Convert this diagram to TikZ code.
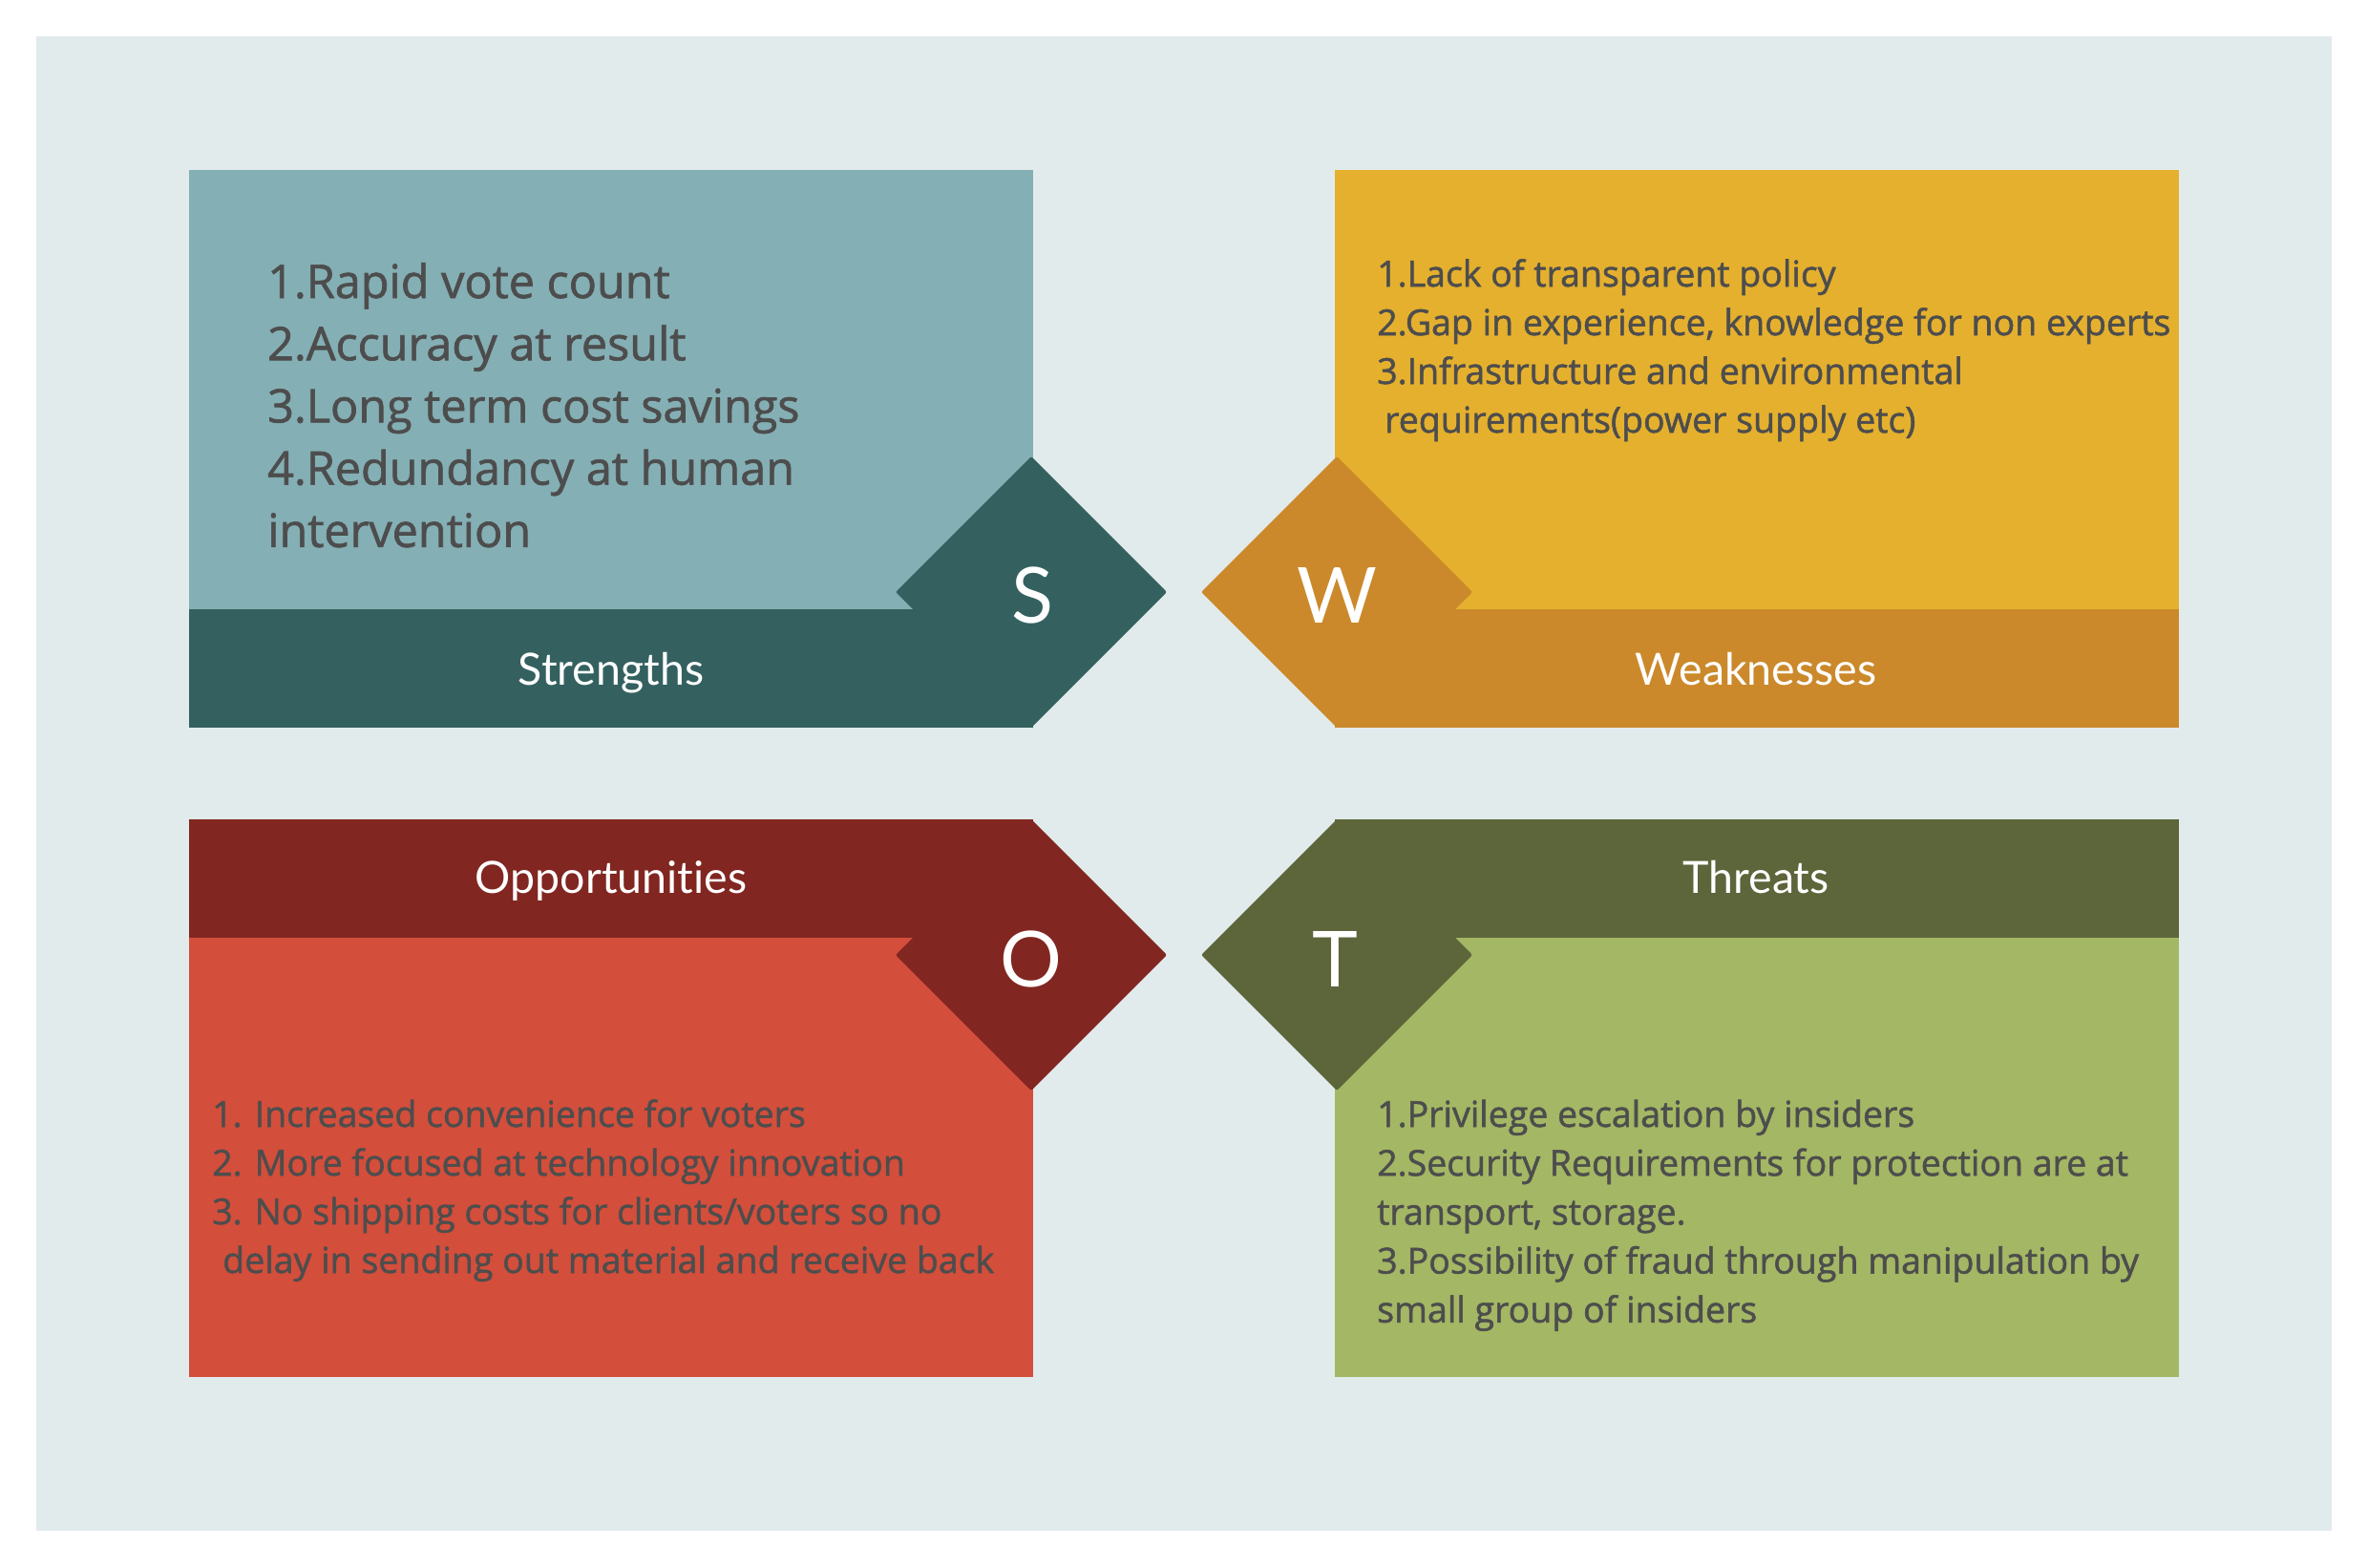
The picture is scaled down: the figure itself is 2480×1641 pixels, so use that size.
\documentclass[tikz,border=0pt]{standalone}
\usepackage{fontspec}
\setmainfont{Open Sans}
\newfontfamily\labfont[Ligatures=NoCommon]{Lato}
\newfontfamily\bodyfont[FakeBold=1.4]{Open Sans}
\definecolor{bgc}{HTML}{E2EBEC}
\definecolor{sLight}{HTML}{84AFB4}
\definecolor{sDark}{HTML}{346160}
\definecolor{wLight}{HTML}{E4B02E}
\definecolor{wDark}{HTML}{CB892B}
\definecolor{oLight}{HTML}{D34E3B}
\definecolor{oDark}{HTML}{812621}
\definecolor{tLight}{HTML}{A3B764}
\definecolor{tDark}{HTML}{5D653B}
\definecolor{txt}{HTML}{4D4D4D}
\begin{document}
\begin{tikzpicture}[x=1pt,y=-1pt,
  letterstyle/.style={text=white,font=\labfont\fontsize{81}{90}\selectfont,anchor=base,inner sep=0pt},
  labelstyle/.style={text=white,font=\labfont\fontsize{46.5}{55}\selectfont,anchor=base,inner sep=0pt},
  liststyle/.style={text=txt,anchor=base west,inner sep=0pt},
  diam/.style={rounded corners=2pt}]
\useasboundingbox (0,0) rectangle (2480,1641);
\fill[white] (0,0) rectangle (2480,1641);
\fill[bgc] (38,38) rectangle (2442,1603);
% Strengths
\fill[sLight] (198,178) rectangle (1082,638);
\fill[sDark] (198,638) rectangle (1082,762);
\fill[sDark,diam] (1080,478) -- (1222,620) -- (1080,762) -- (938,620) -- cycle;
% Weaknesses
\fill[wLight] (1398,178) rectangle (2282,638);
\fill[wDark] (1398,638) rectangle (2282,762);
\fill[wDark,diam] (1400,478) -- (1542,620) -- (1400,762) -- (1258,620) -- cycle;
% Opportunities
\fill[oDark] (198,858) rectangle (1082,982);
\fill[oLight] (198,982) rectangle (1082,1442);
\fill[oDark,diam] (1080,858) -- (1222,1000) -- (1080,1142) -- (938,1000) -- cycle;
% Threats
\fill[tDark] (1398,858) rectangle (2282,982);
\fill[tLight] (1398,982) rectangle (2282,1442);
\fill[tDark,diam] (1400,858) -- (1542,1000) -- (1400,1142) -- (1258,1000) -- cycle;
% letters
\node[letterstyle] (ls) at (1081,652) {S};
\node[letterstyle] (lw) at (1400,652) {W};
\node[letterstyle] (lo) at (1080,1033) {O};
\node[letterstyle] (lt) at (1398,1033) {T};
% labels
\node[labelstyle] (labs) at (640,717) {Strengths};
\node[labelstyle] (labw) at (1839,717) {Weaknesses};
\node[labelstyle] (labo) at (640,935) {Opportunities};
\node[labelstyle] (labt) at (1839,935) {Threats};
% lists
\node[liststyle] (slist) at (280,312) {\vtop{\bodyfont\fontsize{48.5}{65.2}\selectfont
  \hbox{1.Rapid vote count}
  \hbox{2.Accuracy at result}
  \hbox{3.Long term cost savings}
  \hbox{4.Redundancy at human}
  \hbox{intervention}}};
\node[liststyle] (wlist) at (1442,300) {\vtop{\bodyfont\fontsize{37.5}{51}\selectfont
  \hbox{1.Lack of transparent policy}
  \hbox{2.Gap in experience, knowledge for non experts}
  \hbox{3.Infrastructure and environmental}
  \hbox{\hspace{8pt}requirements(power supply etc)}}};
\node[liststyle] (olist) at (222,1180) {\vtop{\bodyfont\fontsize{37.5}{51}\selectfont
  \hbox{1. Increased convenience for voters}
  \hbox{2. More focused at technology innovation}
  \hbox{3. No shipping costs for clients/voters so no}
  \hbox{\hspace{11pt}delay in sending out material and receive back}}};
\node[liststyle] (tlist) at (1442,1180) {\vtop{\bodyfont\fontsize{37.5}{51.2}\selectfont
  \hbox{1.Privilege escalation by insiders}
  \hbox{2.Security Requirements for protection are at}
  \hbox{transport, storage.}
  \hbox{3.Possibility of fraud through manipulation by}
  \hbox{small group of insiders}}};
\end{tikzpicture}
\end{document}
